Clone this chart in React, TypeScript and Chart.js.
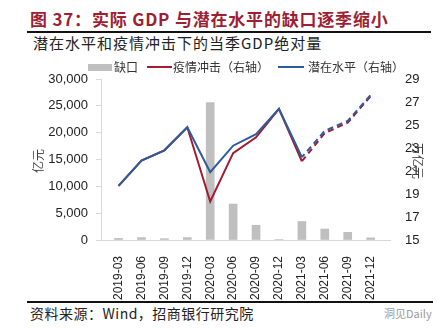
import { useEffect, useRef } from 'react';
import { Chart, registerables } from 'chart.js';

Chart.register(...registerables);

const quarters = ['2019-03', '2019-06', '2019-09', '2019-12', '2020-03', '2020-06', '2020-09', '2020-12', '2021-03', '2021-06', '2021-09', '2021-12'];
const gapValues = [300, 450, 250, 450, 25600, 6700, 2750, 100, 3450, 2050, 1430, 400];
const shockValues = [19.7, 21.9, 22.8, 24.8, 18.35, 22.55, 23.93, 26.4, 21.85, 24.3, 25.2, 27.5];
const potentialValues = [19.7, 21.9, 22.8, 24.8, 20.9, 23.2, 24.2, 26.4, 22.2, 24.5, 25.35, 27.6];
const leftTicks = [0, 5000, 10000, 15000, 20000, 25000, 30000];
const rightTicks = [15, 17, 19, 21, 23, 25, 27, 29];
const forecastStart = 8;

const CJK = '"Noto Sans CJK SC", "Noto Sans", sans-serif';
const LATIN = '"Liberation Sans", Arial, sans-serif';
const RED = '#a01c30';
const BLUE = '#2e5b9a';
const GRAY = '#bfbfbf';

export default function App() {
  const ref = useRef<HTMLCanvasElement | null>(null);

  useEffect(() => {
    if (!ref.current) return;
    Chart.defaults.font.family = LATIN;
    const dash = (ctx: any) => (ctx.p0DataIndex >= forecastStart ? [6, 4] : []);
    const chart = new Chart(ref.current, {
      data: {
        datasets: [
          {
            type: 'bar',
            label: '缺口',
            data: gapValues.map((v, i) => ({ x: i, y: v })),
            yAxisID: 'y',
            backgroundColor: GRAY,
            barThickness: 8,
            order: 3,
          },
          {
            type: 'line',
            label: '疫情冲击（右轴）',
            data: shockValues.map((v, i) => ({ x: i, y: v })),
            yAxisID: 'y1',
            borderColor: RED,
            borderWidth: 2,
            pointRadius: 0,
            tension: 0,
            order: 2,
            segment: { borderDash: dash },
          },
          {
            type: 'line',
            label: '潜在水平（右轴）',
            data: potentialValues.map((v, i) => ({ x: i, y: v })),
            yAxisID: 'y1',
            borderColor: BLUE,
            borderWidth: 2,
            pointRadius: 0,
            tension: 0,
            order: 1,
            segment: { borderDash: dash, borderDashOffset: (ctx: any) => (ctx.p0DataIndex >= forecastStart ? 2 : 0) },
          },
        ],
      } as any,
      options: {
        animation: false,
        responsive: false,
        maintainAspectRatio: false,
        layout: { padding: { left: 0, right: 0, top: 24, bottom: 0 } },
        plugins: { legend: { display: false }, tooltip: { enabled: false } },
        scales: {
          x: {
            type: 'linear',
            min: -0.24,
            max: 11.32,
            grid: { display: false },
            border: { color: '#d9d9d9' },
            afterBuildTicks: (s: any) => {
              s.ticks = quarters.map((_, i) => ({ value: i }));
            },
            afterFit: (s: any) => {
              s.height = 60;
            },
            ticks: {
              callback: (v: any) => quarters[v] ?? '',
              maxRotation: 90,
              minRotation: 90,
              autoSkip: false,
              padding: 8,
              color: '#222',
              font: { size: 12, family: LATIN },
            },
          },
          y: {
            position: 'left',
            min: 0,
            max: 30000,
            afterBuildTicks: (s: any) => {
              s.ticks = leftTicks.map((v) => ({ value: v }));
            },
            afterFit: (s: any) => {
              s.width = 101;
            },
            grid: { drawOnChartArea: false, tickLength: 5, color: '#d9d9d9' },
            border: { color: '#d9d9d9' },
            ticks: {
              padding: 8,
              color: '#222',
              font: { size: 13, family: LATIN },
              callback: (v: any) => Number(v).toLocaleString('en-US'),
            },
          },
          y1: {
            position: 'right',
            min: 15,
            max: 29,
            afterBuildTicks: (s: any) => {
              s.ticks = rightTicks.map((v) => ({ value: v }));
            },
            afterFit: (s: any) => {
              s.width = 48;
            },
            grid: { display: false },
            border: { display: false },
            ticks: { padding: 7, color: '#222', font: { size: 13, family: LATIN } },
          },
        },
      } as any,
    });
    return () => chart.destroy();
  }, []);

  const legendText: React.CSSProperties = { fontFamily: CJK, fontSize: 12, color: '#333', whiteSpace: 'nowrap', lineHeight: '14px' };
  const axisTitle: React.CSSProperties = { position: 'absolute', fontFamily: CJK, fontSize: 12, color: '#404040', lineHeight: '14px', whiteSpace: 'nowrap' };

  return (
    <div style={{ position: 'absolute', left: 0, top: 0, width: 438, height: 328, background: '#fff', overflow: 'hidden' }}>
      <div style={{ position: 'absolute', left: 30, top: 8, fontFamily: CJK, fontWeight: 700, fontSize: 17, letterSpacing: 0.8, color: '#9e1f32', lineHeight: '22px', whiteSpace: 'nowrap' }}>
        图 37：实际 GDP 与潜在水平的缺口逐季缩小
      </div>
      <div style={{ position: 'absolute', left: 27, top: 31, width: 404, height: 2, background: '#111' }} />
      <div style={{ position: 'absolute', left: 33, top: 34, fontFamily: CJK, fontSize: 15, letterSpacing: 1, color: '#222', lineHeight: '18px', whiteSpace: 'nowrap' }}>
        潜在水平和疫情冲击下的当季GDP绝对量
      </div>
      <canvas ref={ref} width={438} height={245} style={{ position: 'absolute', left: 0, top: 55, width: 438, height: 245 }} />
      <div style={{ ...axisTitle, left: 38, top: 161, transform: 'translate(-50%, -50%) rotate(-90deg)' }}>亿元</div>
      <div style={{ ...axisTitle, left: 418, top: 161, transform: 'translate(-50%, -50%) rotate(90deg)' }}>万亿元</div>
      <div style={{ position: 'absolute', left: 88, top: 60, display: 'flex', alignItems: 'center' }}>
        <div style={{ width: 24, height: 7, background: GRAY }} />
        <div style={{ ...legendText, marginLeft: 2 }}>缺口</div>
        <div style={{ width: 25, height: 2, background: RED, marginLeft: 9 }} />
        <div style={{ ...legendText, marginLeft: 1 }}>疫情冲击（右轴）</div>
        <div style={{ width: 26, height: 2, background: BLUE, marginLeft: 9 }} />
        <div style={{ ...legendText, marginLeft: 4 }}>潜在水平（右轴）</div>
      </div>
      <div style={{ position: 'absolute', left: 27, top: 301, width: 406, height: 2, background: '#111' }} />
      <div style={{ position: 'absolute', left: 30, top: 304, fontFamily: CJK, fontSize: 14, letterSpacing: 0.5, color: '#222', lineHeight: '18px', whiteSpace: 'nowrap' }}>
        资料来源：Wind，招商银行研究院
      </div>
      <div style={{ position: 'absolute', left: 384, top: 306, fontFamily: CJK, fontSize: 11, color: '#9a9a9a', lineHeight: '14px', whiteSpace: 'nowrap' }}>
        洞见Daily
      </div>
    </div>
  );
}
